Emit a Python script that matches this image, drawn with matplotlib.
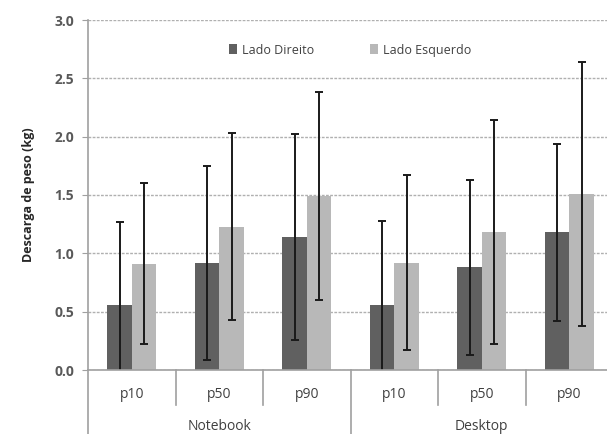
import numpy as np
import matplotlib.pyplot as plt

# data (mean and std of weight discharge)
groups = ['Notebook', 'Desktop']
percentis = ['p10', 'p50', 'p90', 'p10', 'p50', 'p90']
direito = [0.56, 0.92, 1.14, 0.56, 0.88, 1.18]
direito_sd = [0.71, 0.83, 0.88, 0.72, 0.75, 0.76]
esquerdo = [0.91, 1.23, 1.49, 0.92, 1.18, 1.51]
esquerdo_sd = [0.69, 0.80, 0.89, 0.75, 0.96, 1.13]

plt.rcParams['font.family'] = ['Open Sans', 'DejaVu Sans']

fig = plt.figure(figsize=(6.07, 4.34), dpi=100)
ax = fig.add_axes([88 / 607, 64 / 434, 525 / 607, 350 / 434])

x = np.arange(len(percentis))
w = 0.28
err_kw = dict(ecolor='#1a1a1a', elinewidth=1.4, capsize=3, capthick=1.4)
ax.bar(x - w / 2, direito, w, yerr=direito_sd, color='#606060',
       label='Lado Direito', error_kw=err_kw, zorder=2)
ax.bar(x + w / 2, esquerdo, w, yerr=esquerdo_sd, color='#b8b8b8',
       label='Lado Esquerdo', error_kw=err_kw, zorder=2)

ax.set_xlim(-0.5, 5.5)
ax.set_ylim(0, 3.0)
ticks = np.arange(0, 3.01, 0.5)
ax.set_yticks(ticks)
ax.set_yticklabels([f'{v:.1f}' for v in ticks],
                   fontsize=10, color='#595959', fontweight='bold')
ax.tick_params(axis='y', length=4, color='#a0a0a0', pad=6)
ax.set_xticks([])
ax.yaxis.grid(True, linestyle=(0, (2, 1)), color='#b0b0b0', linewidth=1, zorder=0)

for s in ['top', 'right']:
    ax.spines[s].set_visible(False)
for s in ['left', 'bottom']:
    ax.spines[s].set_color('#a0a0a0')
    ax.spines[s].set_linewidth(1.2)

# category separators below the axis
trans = ax.get_xaxis_transform()
for xs in [0.5, 1.5, 3.5, 4.5]:
    ax.plot([xs, xs], [0, -0.1], transform=trans, color='#a0a0a0', lw=1.2, clip_on=False)
for xs in [-0.5, 2.5]:
    ax.plot([xs, xs], [0, -0.25], transform=trans, color='#a0a0a0', lw=1.2, clip_on=False)

for i, lab in enumerate(percentis):
    ax.text(i, -0.071, lab, transform=trans, ha='center', va='center',
            fontsize=10, color='#404040')
for j, g in enumerate(groups):
    ax.text(3 * j + 1, -0.16, g, transform=trans, ha='center', va='center',
            fontsize=10, color='#404040')

ax.set_ylabel('Descarga de peso (kg)', fontsize=9, fontweight='bold',
              color='#262626', labelpad=14)

ax.legend(loc='center', bbox_to_anchor=((350 - 88) / 525, 0.914),
          ncol=2, frameon=False, fontsize=9, handlelength=0.6, handleheight=0.8,
          columnspacing=4.5, handletextpad=0.4, labelcolor='#404040')

plt.savefig('out.png')
